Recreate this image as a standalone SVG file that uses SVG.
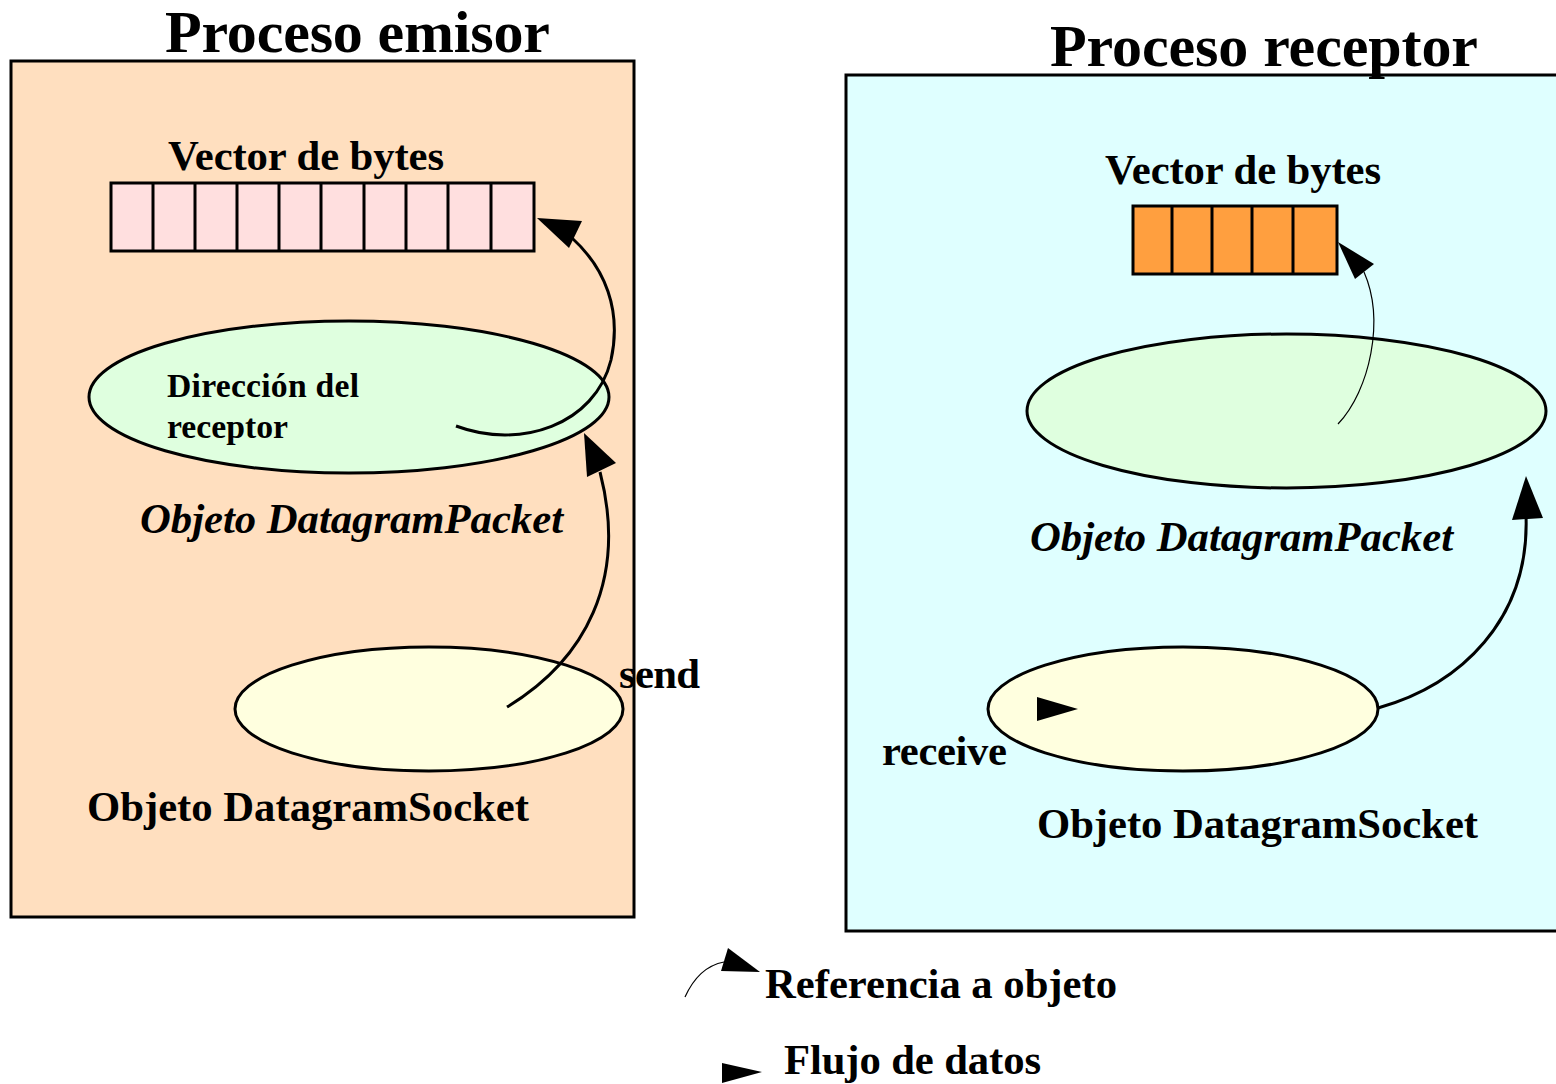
<svg xmlns="http://www.w3.org/2000/svg" width="1556" height="1084" viewBox="0 0 1556 1084">
<style>
text{font-family:"Liberation Serif","Times New Roman",serif;font-weight:bold;fill:#000}
.t{font-size:60px}
.m{font-size:42.7px}
.i{font-size:42.7px;font-style:italic}
.s{font-size:33.7px}
.box{stroke:#000;stroke-width:3}
.el{stroke:#000;stroke-width:3}
.cell{stroke:#000;stroke-width:3}
.c{fill:none;stroke:#000;stroke-width:3}
.thin{fill:none;stroke:#000;stroke-width:1.2}
.ah{fill:#000}
</style>
<rect width="1556" height="1084" fill="#fff"/>
<g id="emisor">
<rect class="box" x="11" y="61" width="623" height="856" fill="#FFDFBF"/>
<text class="t" x="165" y="52" textLength="385">Proceso emisor</text>
</g>
<g id="receptor">
<rect class="box" x="846" y="75" width="720" height="856" fill="#DFFFFF"/>
<text class="t" x="1050" y="66" textLength="428">Proceso receptor</text>
</g>
<g id="vector-emisor">
<text class="m" x="168" y="170" textLength="276">Vector de bytes</text>
<rect class="cell" x="111" y="183" width="423" height="68" fill="#FFDFDF"/>
<path class="cell" d="M153 183V251M195 183V251M237 183V251M279 183V251M321 183V251M364 183V251M406 183V251M448 183V251M491 183V251"/>
</g>
<g id="packet-emisor">
<ellipse class="el" cx="349" cy="397" rx="260" ry="76" fill="#DFFFDF"/>
<text class="s" x="167" y="397" textLength="192">Dirección del</text>
<text class="s" x="167" y="438">receptor</text>
<text class="i" x="140" y="533" textLength="423">Objeto DatagramPacket</text>
</g>
<g id="socket-emisor">
<ellipse class="el" cx="429" cy="709" rx="194" ry="62" fill="#FFFFDF"/>
<text class="m" x="87" y="821" textLength="442">Objeto DatagramSocket</text>
</g>
<g id="vector-receptor">
<text class="m" x="1105" y="184" textLength="276">Vector de bytes</text>
<rect class="cell" x="1133" y="206" width="204" height="68" fill="#FF9F3F"/>
<path class="cell" d="M1172 206V274M1212 206V274M1252 206V274M1293 206V274"/>
</g>
<g id="packet-receptor">
<ellipse class="el" cx="1286.5" cy="411" rx="259.5" ry="77" fill="#DFFFDF"/>
<text class="i" x="1030" y="551" textLength="423">Objeto DatagramPacket</text>
</g>
<g id="socket-receptor">
<ellipse class="el" cx="1183" cy="709" rx="195" ry="62" fill="#FFFFDF"/>
<text class="m" x="1037" y="838" textLength="441">Objeto DatagramSocket</text>
<polygon class="ah" points="1037,697 1078,709 1037,721"/>
</g>
<g id="connectors">
<path class="c" d="M456 426 C520 450 595 425 611 360 C622 310 605 268 572 238"/>
<polygon class="ah" points="537,218 582,221 569,248"/>
<path class="c" d="M507 707 C585 660 628 580 600 472"/>
<polygon class="ah" points="584,433 616,463 587,477"/>
<text class="m" x="619" y="688" textLength="81">send</text>
<path class="thin" d="M1338 424 C1370 390 1385 320 1364 272"/>
<polygon class="ah" points="1338,242 1374,264 1355,279"/>
<path class="c" d="M1378 708 C1460 685 1530 620 1526 515"/>
<polygon class="ah" points="1526,476 1543,518 1512,520"/>
<text class="m" x="882" y="765" textLength="125">receive</text>
</g>
<g id="legend">
<path class="thin" d="M685 997 C695 975 708 965 724 962"/>
<polygon class="ah" points="721,971 728,948 760,972"/>
<text class="m" x="765" y="998" textLength="352">Referencia a objeto</text>
<polygon class="ah" points="722,1063 762,1072 722,1083"/>
<text class="m" x="784" y="1074" textLength="257">Flujo de datos</text>
</g>
</svg>
